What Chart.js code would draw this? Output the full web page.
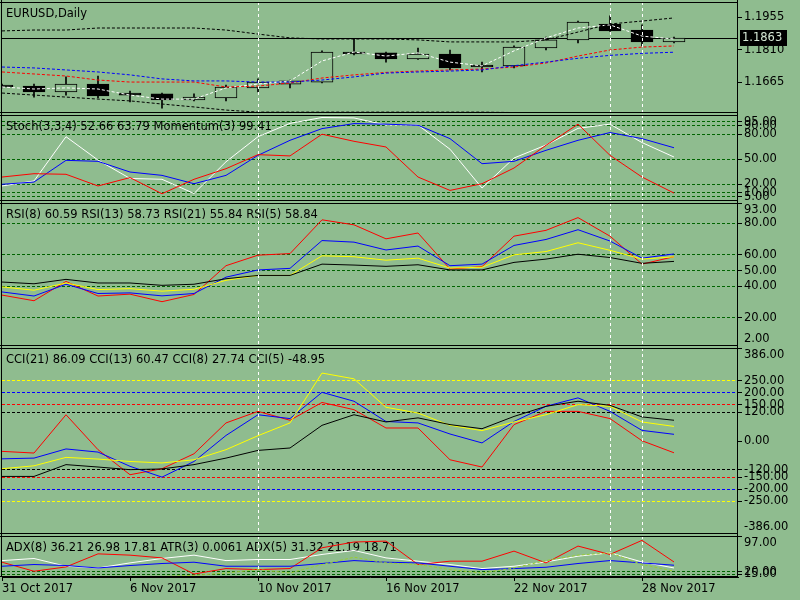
<!DOCTYPE html>
<html lang="en">
<head>
<meta charset="UTF-8">
<title>EURUSD,Daily</title>
<script src="https://cdn.jsdelivr.net/npm/chart.js"></script>
<style>
  html, body { margin: 0; padding: 0; background: #8fbc8f; }
  #wrap { position: relative; width: 800px; height: 600px; overflow: hidden; }
  .pane { position: absolute; left: 0; }
  #frame { position: absolute; left: 1px; top: 0; width: 737px; height: 577px;
           border-left: 1px solid #000; border-right: 1px solid #000; box-sizing: border-box; }
</style>
</head>
<body>
<div id="wrap">
  <canvas id="price" class="pane" width="800" height="111" style="top:2px"></canvas>
  <canvas id="stoch" class="pane" width="800" height="86" style="top:115px"></canvas>
  <canvas id="rsi" class="pane" width="800" height="143" style="top:203px"></canvas>
  <canvas id="cci" class="pane" width="800" height="186" style="top:348px"></canvas>
  <canvas id="adx" class="pane" width="800" height="64" style="top:536px"></canvas>
  <div id="frame"></div>
</div>

<script>
// bars
const dates = ['31 Oct 2017', '1 Nov 2017', '2 Nov 2017', '3 Nov 2017', '6 Nov 2017', '7 Nov 2017',
               '8 Nov 2017', '9 Nov 2017', '10 Nov 2017', '13 Nov 2017', '14 Nov 2017', '15 Nov 2017',
               '16 Nov 2017', '17 Nov 2017', '20 Nov 2017', '21 Nov 2017', '22 Nov 2017', '23 Nov 2017',
               '24 Nov 2017', '27 Nov 2017', '28 Nov 2017', '29 Nov 2017'];
const dateTicks = ['31 Oct 2017', '6 Nov 2017', '10 Nov 2017', '16 Nov 2017', '22 Nov 2017', '28 Nov 2017'];
const markedDates = ['10 Nov 2017', '27 Nov 2017', '28 Nov 2017'];

// price pane
const open  = [1.1654, 1.1649, 1.1623, 1.1658, 1.1618, 1.1614, 1.1587, 1.1596, 1.1641, 1.1658, 1.1667,
               1.1801, 1.1797, 1.1770, 1.1792, 1.1743, 1.1739, 1.1819, 1.1855, 1.1926, 1.1899, 1.1846];
const high  = [1.1658, 1.1658, 1.1690, 1.1694, 1.1627, 1.1618, 1.1614, 1.1654, 1.1681, 1.1676, 1.1806,
               1.1859, 1.1801, 1.1819, 1.1810, 1.1756, 1.1828, 1.1868, 1.1939, 1.1962, 1.1922, 1.1868];
const low   = [1.1641, 1.1600, 1.1609, 1.1596, 1.1578, 1.1551, 1.1583, 1.1583, 1.1623, 1.1641, 1.1663,
               1.1788, 1.1756, 1.1768, 1.1721, 1.1712, 1.1730, 1.1810, 1.1841, 1.1893, 1.1828, 1.1841];
const close = [1.1645, 1.1623, 1.1658, 1.1605, 1.1609, 1.1587, 1.1600, 1.1645, 1.1667, 1.1672, 1.1801,
               1.1792, 1.1770, 1.1792, 1.1730, 1.1734, 1.1823, 1.1855, 1.1935, 1.1895, 1.1846, 1.1863];
const bandUpper = [1.1895, 1.1899, 1.1899, 1.1908, 1.1908, 1.1908, 1.1908, 1.1899, 1.1881, 1.1864, 1.1859,
                   1.1859, 1.1859, 1.1855, 1.1846, 1.1846, 1.1846, 1.1855, 1.1890, 1.1926, 1.1939, 1.1953];
const bandLower = [1.1618, 1.1609, 1.1600, 1.1591, 1.1583, 1.1569, 1.1556, 1.1542, 1.1533, 1.1533, 1.1533,
                   1.1533, 1.1533, 1.1533, 1.1533, 1.1533, 1.1531, 1.1527, 1.1520, 1.1516, 1.1520, 1.1529];
const maSlow = [1.1734, 1.1730, 1.1721, 1.1712, 1.1699, 1.1681, 1.1672, 1.1672, 1.1667, 1.1667, 1.1676,
                1.1690, 1.1707, 1.1712, 1.1716, 1.1721, 1.1740, 1.1756, 1.1773, 1.1786, 1.1795, 1.1800];
const maMid  = [1.1712, 1.1703, 1.1694, 1.1676, 1.1667, 1.1667, 1.1667, 1.1645, 1.1649, 1.1663, 1.1685,
                1.1699, 1.1710, 1.1716, 1.1721, 1.1725, 1.1734, 1.1752, 1.1783, 1.1810, 1.1823, 1.1828];
const maFast = [1.1645, 1.1636, 1.1641, 1.1636, 1.1609, 1.1591, 1.1591, 1.1641, 1.1658, 1.1672, 1.1761,
                1.1801, 1.1783, 1.1797, 1.1756, 1.1739, 1.1806, 1.1864, 1.1908, 1.1922, 1.1872, 1.1859];
const priceTicks = [1.1955, 1.1810, 1.1665];

// stochastic + momentum
const stochMain   = [18, 24, 77, 49, 27, 26, 9, 47, 77, 93, 100, 99.5, 91, 91, 62, 15.5, 51.5, 67, 87, 92, 70, 52.66];
const stochSignal = [20, 22.7, 48.7, 47.5, 34.7, 30.7, 20.7, 30.7, 54.7, 72.7, 86.7, 92.7, 92, 90.7, 74.7, 44.7,
                     47.5, 60.7, 72.7, 82, 74.7, 63.79];
const momentum    = [28.7, 32.7, 32, 18, 28, 8.7, 26, 38.7, 55.5, 54, 80, 71.5, 64.7, 28.7, 12.7, 20.7, 39.5,
                     66.7, 92, 54.7, 28.7, 9.5];
const stochTicks = [95, 90, 80, 50, 20, 10, 5];

// RSI
const rsi8  = [36.4, 33.8, 41.3, 35.4, 35.8, 33.9, 35.4, 45.8, 50.4, 51.4, 69.1, 68.1, 63.1, 65.6, 53.1, 54.1,
               66, 69.8, 76, 68.8, 57.9, 60.59];
const rsi13 = [39.6, 37.5, 42.1, 37.9, 38.5, 36.9, 38.1, 43.8, 46.9, 46.9, 59.4, 58.8, 56.6, 57.9, 51.6, 52.1,
               60, 62.1, 67.7, 62.9, 57.3, 58.73];
const rsi21 = [42.7, 41.6, 44.4, 42.1, 42.1, 40.6, 41.3, 44.8, 46.9, 46.9, 54.1, 53.5, 52.7, 53.7, 50.4, 50.4,
               55.2, 57.3, 60.4, 58.3, 54.6, 55.84];
const rsi5  = [34.4, 30.8, 43.1, 33.8, 35, 30.2, 34.8, 53.1, 59.8, 60.8, 82.3, 79.1, 70.2, 73.9, 51, 52.5,
               71.9, 75.6, 83.7, 71.9, 54.1, 58.84];
const rsiTicks = [93, 80, 60, 50, 40, 20, 2];

// CCI
const cci21 = [-147, -147, -98, -108, -119, -116, -98, -71, -39, -29, 65, 109, 79, 96, 68, 51, 102, 144, 165, 148, 100, 86.09];
const cci13 = [-115, -103, -68, -75, -85, -91, -78, -36, 22, 75, 282, 258, 140, 116, 65, 43, 79, 109, 151, 144, 79, 60.47];
const cci8  = [-74, -71, -33, -46, -105, -150, -85, 23, 109, 93, 202, 165, 81, 75, 29, -8, 81, 144, 179, 123, 44, 27.74];
const cci5  = [-43, -50, 109, -36, -140, -115, -53, 75, 123, 86, 160, 130, 54, 54, -78, -108, 68, 123, 123, 93, 1, -48.95];
const cciTicks = [386, 250, 200, 150, 120, 0, -120, -150, -200, -250, -386];

// ADX / ATR (pane units)
const adx8    = [40.5, 21, 30.3, 58.5, 55.7, 49.8, 15, 26.8, 24.6, 26.8, 71.6, 84, 86, 35.5, 42.7, 42.7, 64.4,
                 39, 75.3, 57.2, 87.6, 41];
const diPlus  = [44, 48.5, 31.8, 28.1, 39, 48.5, 55.7, 44, 46.3, 46.3, 57.2, 65.9, 49.8, 42.7, 35.5, 26.8, 31.8,
                 41, 53.5, 60.7, 41, 28.1];
const diMinus = [31.8, 35.5, 33.3, 28.1, 33.3, 37.7, 40.5, 31.8, 31.8, 31.8, 37.7, 44, 40.5, 39, 31.8, 24.6, 26.8,
                 29.6, 37.7, 44, 39, 34];
const adx5    = [10, 10, 10, 10, 10, 10, 12, 17.2, 24.6, 17.2, 35.5, 51.3, 39, 35.5, 24.6, 17.2, 28.1, 44, 55.7,
                 60.7, 35.5, 21];
const adxTicks = [97, 20, 15];

const BG = '#8fbc8f';
const FONT = '11.5px "DejaVu Sans"';
Chart.defaults.font.family = '"DejaVu Sans"';
Chart.defaults.font.size = 11.5;
Chart.defaults.color = '#000';

// two empty slots on the right so the last bar sits where it does in the terminal
const labels = dates.concat(['', '']);

function line(data, color, dash) {
    return { type: 'line', data, borderColor: color, borderWidth: 1, borderDash: dash || [],
             pointRadius: 0, tension: 0, fill: false, order: 1 };
}

function xAxis(show) {
    if (!show) return { type: 'category', offset: false, display: false };
    return {
        type: 'category', offset: false,
        afterFit: s => { s.height = 23; s.paddingLeft = 0; s.paddingRight = 0; },
        ticks: {
            autoSkip: false, maxRotation: 0, align: 'start', padding: 1, color: '#000',
            callback(v) { const l = this.getLabelForValue(v); return dateTicks.includes(l) ? l : null; }
        },
        grid: { drawOnChartArea: false, tickColor: '#000', tickLength: 4 },
        border: { display: true, color: '#000' }
    };
}

function yAxis(min, max, tickValues, digits, levelColor) {
    return {
        position: 'right', min, max,
        afterBuildTicks: s => { s.ticks = tickValues.map(v => ({ value: v })); },
        afterFit: s => { s.width = 62; s.paddingTop = 0; s.paddingBottom = 0; },
        ticks: {
            autoSkip: false, padding: 2, color: '#000',
            callback: v => {
                const t = v.toFixed(digits);
                if (v === max) return ['', t];
                if (v === min) return [t, ''];
                return t;
            }
        },
        grid: {
            drawOnChartArea: !!levelColor,
            color: c => (levelColor && c.tick ? levelColor(c.tick.value) : 'rgba(0,0,0,0)'),
            tickColor: '#000', tickLength: 4
        },
        border: { display: false, dash: [3, 2] }
    };
}

function decor(title, extra) {
    return {
        id: 'decor',
        beforeDatasetsDraw(chart) {
            const { ctx, chartArea: a } = chart;
            ctx.save();
            ctx.font = FONT;
            ctx.fillStyle = '#000';
            ctx.fillText(title, a.left + 4, a.top + 15);
            if (extra) extra(chart);
            ctx.restore();
        },
        afterDatasetsDraw(chart) {
            const { ctx, chartArea: a, scales: { x } } = chart;
            ctx.save();
            ctx.lineWidth = 1;
            ctx.strokeStyle = '#fff';
            ctx.setLineDash([3, 3]);
            markedDates.forEach(d => {
                const px = Math.round(x.getPixelForValue(dates.indexOf(d))) + 0.5;
                ctx.beginPath(); ctx.moveTo(px, a.top); ctx.lineTo(px, a.bottom); ctx.stroke();
            });
            ctx.setLineDash([]);
            ctx.strokeStyle = '#000';
            ctx.beginPath();
            ctx.moveTo(0, a.top + 0.5); ctx.lineTo(a.right, a.top + 0.5);
            ctx.moveTo(0, a.bottom - 0.5); ctx.lineTo(a.right, a.bottom - 0.5);
            ctx.stroke();
            ctx.restore();
        }
    };
}

function baseOptions(scales) {
    return {
        responsive: false, animation: false,
        layout: { padding: { left: 2, right: 0, top: 0, bottom: 0 } },
        plugins: { legend: { display: false }, tooltip: { enabled: false } },
        scales
    };
}

// price pane
const lastClose = close[close.length - 1];
new Chart(document.getElementById('price'), {
    type: 'bar',
    data: {
        labels,
        datasets: [
            { data: low.map((l, i) => [l, high[i]]), backgroundColor: '#000', borderWidth: 0,
              barThickness: 1, grouped: false, order: 10 },
            { data: open.map((o, i) => [o, close[i]]),
              backgroundColor: open.map((o, i) => (close[i] >= o ? BG : '#000')),
              borderColor: '#000', borderWidth: 1, borderSkipped: false,
              barThickness: 22, grouped: false, order: 9 },
            line(bandUpper, '#000', [3, 2]),
            line(bandLower, '#000', [3, 2]),
            line(maSlow, '#0000ff', [3, 2]),
            line(maMid, '#ff0000', [3, 2]),
            line(maFast, '#ffffff', [3, 2])
        ]
    },
    options: baseOptions({ x: xAxis(false), y: yAxis(1.1529, 1.2024, priceTicks, 4, null) }),
    plugins: [decor('EURUSD,Daily', chart => {
        const { ctx, chartArea: a, scales: { y } } = chart;
        const py = Math.round(y.getPixelForValue(lastClose)) + 0.5;
        ctx.strokeStyle = '#000';
        ctx.lineWidth = 1;
        ctx.beginPath(); ctx.moveTo(a.left, py); ctx.lineTo(a.right, py); ctx.stroke();
        ctx.fillStyle = '#000';
        ctx.fillRect(740, py - 8.5, 47, 16);
        ctx.fillStyle = '#d4e6d4';
        ctx.textBaseline = 'middle';
        ctx.fillText(lastClose.toFixed(4), 742, py);
    })]
});

const greenLevel = v => '#006400';

// stochastic pane
new Chart(document.getElementById('stoch'), {
    type: 'line',
    data: { labels, datasets: [line(momentum, '#ff0000'), line(stochSignal, '#0000ff'), line(stochMain, '#ffffff')] },
    options: baseOptions({ x: xAxis(false), y: yAxis(0, 103, stochTicks, 2, greenLevel) }),
    plugins: [decor('Stoch(3,3,4) 52.66 63.79 Momentum(3) 99.41')]
});

// RSI pane
new Chart(document.getElementById('rsi'), {
    type: 'line',
    data: { labels, datasets: [line(rsi21, '#000000'), line(rsi13, '#ffff00'), line(rsi8, '#0000ff'), line(rsi5, '#ff0000')] },
    options: baseOptions({ x: xAxis(false),
        y: yAxis(2, 93, rsiTicks, 2, v => (v === 93 || v === 2 ? 'rgba(0,0,0,0)' : '#006400')) }),
    plugins: [decor('RSI(8) 60.59 RSI(13) 58.73 RSI(21) 55.84 RSI(5) 58.84')]
});

// CCI pane
const cciLevelColor = { 250: '#ffff00', 200: '#0000ff', 150: '#ff0000', 120: '#000000' };
new Chart(document.getElementById('cci'), {
    type: 'line',
    data: { labels, datasets: [line(cci21, '#000000'), line(cci13, '#ffff00'), line(cci8, '#0000ff'), line(cci5, '#ff0000')] },
    options: baseOptions({ x: xAxis(false),
        y: yAxis(-386, 386, cciTicks, 2, v => cciLevelColor[Math.abs(v)] || 'rgba(0,0,0,0)') }),
    plugins: [decor('CCI(21) 86.09 CCI(13) 60.47 CCI(8) 27.74 CCI(5) -48.95')]
});

// ADX pane with the date axis
new Chart(document.getElementById('adx'), {
    type: 'line',
    data: { labels, datasets: [line(adx5, '#9acd32', [3, 2]), line(diMinus, '#0000ff'), line(adx8, '#ff0000'), line(diPlus, '#ffffff')] },
    options: baseOptions({ x: xAxis(true),
        y: yAxis(8.6, 97, adxTicks, 2, v => (v === 97 ? 'rgba(0,0,0,0)' : '#006400')) }),
    plugins: [decor('ADX(8) 36.21 26.98 17.81 ATR(3) 0.0061 ADX(5) 31.32 21.19 18.71')]
});
</script>
</body>
</html>
